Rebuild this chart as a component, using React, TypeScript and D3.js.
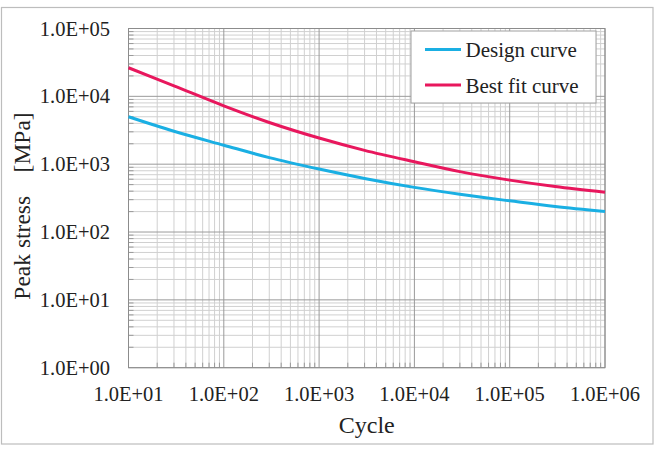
import React from "react";
import * as d3 from "d3";

// Fatigue (S-N) curves: peak stress vs number of cycles, log-log axes
const cycles = [10, 30, 100, 300, 1000, 3000, 1e4, 3e4, 1e5, 3e5, 1e6];
const designCurve = [5000, 3055, 1905, 1250, 849, 617, 455, 360, 288, 237, 200];
const bestFitCurve = [26400, 14300, 7250, 4120, 2430, 1600, 1085, 776, 582, 468, 385];

const xTickValues = [1e1, 1e2, 1e3, 1e4, 1e5, 1e6];
const xTickLabels = ["1.0E+01", "1.0E+02", "1.0E+03", "1.0E+04", "1.0E+05", "1.0E+06"];
const yTickValues = [1e0, 1e1, 1e2, 1e3, 1e4, 1e5];
const yTickLabels = ["1.0E+00", "1.0E+01", "1.0E+02", "1.0E+03", "1.0E+04", "1.0E+05"];

const seriesNames = ["Design curve", "Best fit curve"];
const seriesColors = ["#1AAFE3", "#E8175D"];

const W = 655;
const H = 452;
const plot = { left: 128.5, right: 605, top: 28.5, bottom: 367.7 };
const FONT = "'Liberation Serif', 'Times New Roman', serif";

function minorValues(lo: number, hi: number): number[] {
  const out: number[] = [];
  for (let d = lo; d < hi; d *= 10) {
    for (let k = 2; k <= 9; k++) out.push(d * k);
  }
  return out;
}

export default function App() {
  const x = d3.scaleLog().domain([1e1, 1e6]).range([plot.left, plot.right]);
  const y = d3.scaleLog().domain([1e0, 1e5]).range([plot.bottom, plot.top]);

  const xMinor = minorValues(1e1, 1e6);
  const yMinor = minorValues(1e0, 1e5);

  const line = d3
    .line<[number, number]>()
    .x((d) => x(d[0]))
    .y((d) => y(d[1]))
    .curve(d3.curveCatmullRom.alpha(0.5));

  const series = [designCurve, bestFitCurve].map((vals) =>
    cycles.map((c, i) => [c, vals[i]] as [number, number])
  );

  const minorColor = "#d0d0d0";
  const majorColor = "#9a9a9a";

  const legend = { x: 411, y: 31, w: 185, h: 72 };

  return (
    <svg
      width={W}
      height={H}
      style={{ position: "absolute", left: 0, top: 0, display: "block", background: "#fff" }}
      fontFamily={FONT}
    >
      {/* outer frame */}
      <rect x={1.5} y={7.5} width={651.5} height={436.5} fill="#fff" stroke="#bdbdbd" strokeWidth={1.2} />

      {/* minor grid */}
      <g stroke={minorColor} strokeWidth={1}>
        {xMinor.map((v) => (
          <line key={"xm" + v} x1={x(v)} x2={x(v)} y1={plot.top} y2={plot.bottom} />
        ))}
        {yMinor.map((v) => (
          <line key={"ym" + v} x1={plot.left} x2={plot.right} y1={y(v)} y2={y(v)} />
        ))}
      </g>

      {/* major grid */}
      <g stroke={majorColor} strokeWidth={1}>
        {xTickValues.map((v) => (
          <line key={"xM" + v} x1={x(v)} x2={x(v)} y1={plot.top} y2={plot.bottom} />
        ))}
        {yTickValues.map((v) => (
          <line key={"yM" + v} x1={plot.left} x2={plot.right} y1={y(v)} y2={y(v)} />
        ))}
      </g>

      {/* minor tick marks inside the axes */}
      <g stroke={majorColor} strokeWidth={1}>
        {xMinor.map((v) => (
          <line key={"xt" + v} x1={x(v)} x2={x(v)} y1={plot.bottom} y2={plot.bottom - 5} />
        ))}
        {yMinor.map((v) => (
          <line key={"yt" + v} x1={plot.left} x2={plot.left + 5} y1={y(v)} y2={y(v)} />
        ))}
      </g>

      {/* plot border */}
      <rect
        x={plot.left}
        y={plot.top}
        width={plot.right - plot.left}
        height={plot.bottom - plot.top}
        fill="none"
        stroke="#8c8c8c"
        strokeWidth={1}
      />

      {/* curves */}
      {series.map((pts, i) => (
        <path
          key={seriesNames[i]}
          d={line(pts) || ""}
          fill="none"
          stroke={seriesColors[i]}
          strokeWidth={3}
          strokeLinejoin="round"
        />
      ))}

      {/* x tick labels */}
      {xTickValues.map((v, i) => (
        <text key={"xl" + v} x={x(v)} y={401} textAnchor="middle" fontSize={20.5} fill="#222">
          {xTickLabels[i]}
        </text>
      ))}

      {/* y tick labels */}
      {yTickValues.map((v, i) => (
        <text key={"yl" + v} x={110} y={y(v) + 7} textAnchor="end" fontSize={20.5} fill="#222">
          {yTickLabels[i]}
        </text>
      ))}

      {/* axis titles */}
      <text x={(plot.left + plot.right) / 2} y={433} textAnchor="middle" fontSize={24} fill="#222">
        Cycle
      </text>
      <text
        transform={`translate(30, 206) rotate(-90)`}
        textAnchor="middle"
        fontSize={23.5}
        fill="#222"
        style={{ whiteSpace: "pre" }}
      >
        {"Peak stress    [MPa]"}
      </text>

      {/* legend */}
      <rect x={legend.x} y={legend.y} width={legend.w} height={legend.h} fill="#fff" stroke="#a0a0a0" strokeWidth={1} />
      {seriesNames.map((name, i) => {
        const ly = legend.y + 18.5 + i * 35.5;
        return (
          <g key={"lg" + name}>
            <line x1={425} x2={461} y1={ly} y2={ly} stroke={seriesColors[i]} strokeWidth={3} />
            <text x={465.5} y={ly + 7.5} fontSize={21} fill="#222">
              {name}
            </text>
          </g>
        );
      })}
    </svg>
  );
}
